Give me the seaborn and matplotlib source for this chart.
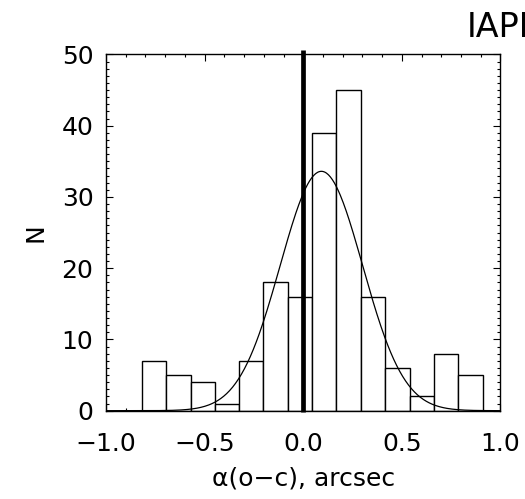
import numpy as np
import pandas as pd
import matplotlib
matplotlib.use("Agg")
import matplotlib.pyplot as plt
import seaborn as sns
from matplotlib.ticker import MultipleLocator

# ---- data ----
bin_edges = [-0.818, -0.695, -0.571, -0.448, -0.325, -0.202, -0.078, 0.045,
             0.168, 0.291, 0.414, 0.539, 0.662, 0.786, 0.909]
counts = [7, 5, 4, 1, 7, 18, 16, 39, 45, 16, 6, 2, 8, 5]
# fitted Gaussian parameters (amplitude, centre, sigma)
gauss_amp = 33.6
gauss_mu = 0.092
gauss_sigma = 0.209
x_ticks = [-1.0, -0.5, 0.0, 0.5, 1.0]
y_ticks = [0, 10, 20, 30, 40, 50]
xlabel = "α(o−c), arcsec"
ylabel = "N"
corner_text = "IAPPI"

sns.set_theme(style="white")
plt.rcParams['font.family'] = ['DejaVu Sans']
plt.rcParams.update({"text.color": "black", "axes.labelcolor": "black",
                     "xtick.color": "black", "ytick.color": "black"})

fig = plt.figure(figsize=(5.25, 4.99), dpi=100)
ax = fig.add_axes([0.2019, 0.177, 0.9533 - 0.2019, 0.8908 - 0.177])

centers = [(bin_edges[i] + bin_edges[i + 1]) / 2 for i in range(len(counts))]
df = pd.DataFrame({"x": centers, "w": counts})
sns.histplot(data=df, x="x", weights="w", bins=bin_edges, ax=ax,
             color="white", edgecolor="black", linewidth=1.0, alpha=1.0)

xs = np.linspace(-1.0, 1.0, 400)
ys = gauss_amp * np.exp(-(xs - gauss_mu) ** 2 / (2 * gauss_sigma ** 2))
sns.lineplot(x=xs, y=ys, ax=ax, color="black", linewidth=0.9)

ax.plot([0.0, 0.0], [-0.15, 50.6], color="black", linewidth=3.4,
        solid_capstyle="butt", clip_on=False, zorder=5)

ax.set_xlim(-1.0, 1.0)
ax.set_ylim(0, 50)
ax.set_xticks(x_ticks)
ax.set_xticklabels([f"{v:.1f}".replace("-", "−") for v in x_ticks])
ax.set_yticks(y_ticks)
ax.xaxis.set_minor_locator(MultipleLocator(0.1))
ax.yaxis.set_minor_locator(MultipleLocator(1))
ax.tick_params(which="both", direction="in", top=True, right=True,
               bottom=True, left=True, color="black", width=0.8)
ax.tick_params(which="major", length=5, labelsize=18)
ax.tick_params(which="minor", length=2.5)
ax.tick_params(axis="x", which="major", pad=15)
ax.tick_params(axis="y", which="major", pad=9)
for s in ax.spines.values():
    s.set_color("black")
    s.set_linewidth(1.0)

ax.set_xlabel(xlabel, fontsize=18, labelpad=8)
ax.set_ylabel(ylabel, fontsize=18, labelpad=10)

fig.text(467 / 525, 1 - 37 / 499, corner_text, fontsize=24, ha="left",
         va="baseline", color="black")

fig.savefig("out.png", dpi=100, facecolor="white")
